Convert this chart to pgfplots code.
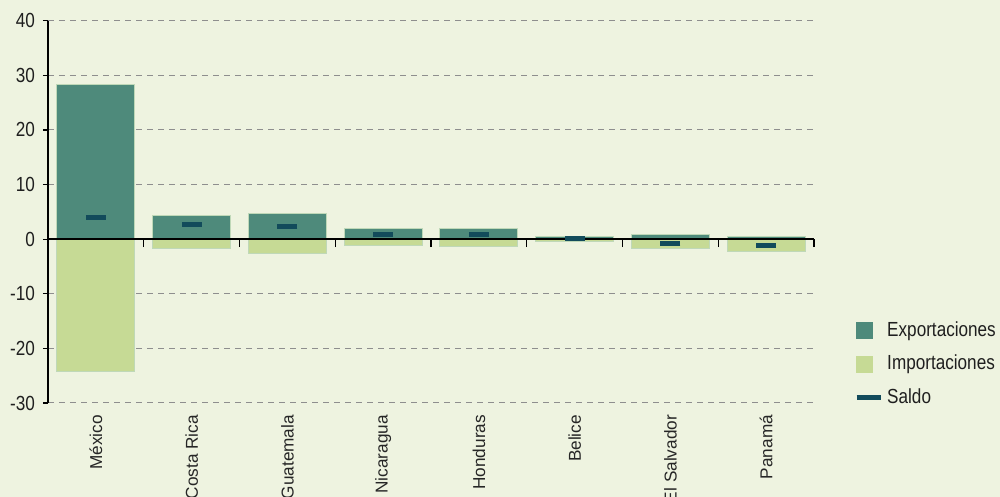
\documentclass[border=0pt]{standalone}
\usepackage{fontspec}
\setmainfont{Liberation Sans}
\newfontfamily\cond[FakeStretch=0.84]{Liberation Sans}
\usepackage{pgfplots}
\pgfplotsset{compat=1.18}
\definecolor{bg}{HTML}{EEF3E0}
\definecolor{expc}{HTML}{4E8A7B}
\definecolor{impc}{HTML}{C6DA95}
\definecolor{saldoc}{HTML}{124B5B}
\definecolor{edgec}{HTML}{BFD8B8}
\definecolor{gridc}{HTML}{8E8E8E}
\begin{document}
\begin{tikzpicture}
\useasboundingbox (0,0) rectangle (500pt,248.5pt);
\clip (0,0) rectangle (500pt,248.5pt);
\fill[bg] (0,0) rectangle (500pt,248.5pt);
\begin{axis}[
  at={(24pt,47pt)}, anchor=south west,
  scale only axis, width=383pt, height=191.15pt,
  xmin=-0.5, xmax=7.5, ymin=-30, ymax=40,
  axis lines*=left,
  x axis line style={draw=none},
  y axis line style={black, line width=0.7pt},
  ytick={-30,-20,...,40},
  ymajorgrids,
  grid style={dashed, gridc, line width=0.5pt, dash pattern=on 3pt off 2.5pt},
  xtick={0,...,7},
  xticklabels={México,Costa Rica,Guatemala,Nicaragua,Honduras,Belice,El Salvador,Panamá},
  xtick style={draw=none},
  ytick style={black, line width=0.6pt},
  tick align=outside, major tick length=2.5pt,
  x tick label style={rotate=90, anchor=east, font=\fontsize{8.6}{10}\selectfont, text=black!85},
  y tick label style={font=\cond\fontsize{10.2}{12}\selectfont, text=black!88, xshift=-0.5pt},
  /pgf/number format/assume math mode=true,
  ybar, bar width=39pt, bar shift=0pt,
  legend style={at={(1.052,0.225)}, anchor=north west, draw=none, fill=none, inner sep=0pt,
    font=\cond\fontsize{10.2}{12}\selectfont, text=black!88, row sep=4pt},
  legend cell align=left,
]
\addplot[fill=expc, draw=edgec, line width=0.5pt,
  legend image code/.code={\fill[expc] (0pt,-4pt) rectangle (8pt,4pt);}]
  coordinates {(0,28.4) (1,4.3) (2,4.75) (3,2.0) (4,2.0) (5,0.55) (6,0.9) (7,0.55)};
\addlegendentry{Exportaciones}
\addplot[fill=impc, draw=edgec, line width=0.5pt,
  legend image code/.code={\fill[impc] (0pt,-4pt) rectangle (8pt,4pt);}]
  coordinates {(0,-24.3) (1,-1.8) (2,-2.6) (3,-1.1) (4,-1.4) (5,-0.35) (6,-1.8) (7,-2.2)};
\addlegendentry{Importaciones}
\addlegendimage{legend image code/.code={\draw[saldoc, line width=2.5pt] (0pt,0pt) -- (12pt,0pt);}}
\addlegendentry{Saldo}
\end{axis}
\begin{axis}[
  at={(24pt,47pt)}, anchor=south west,
  scale only axis, width=383pt, height=191.15pt,
  xmin=-0.5, xmax=7.5, ymin=-30, ymax=40,
  axis x line*=middle, axis y line=none,
  x axis line style={black, line width=0.8pt},
  xtick={0.5,1.5,...,7.5}, xticklabels={}, ytick=\empty,
  xtick style={black, line width=0.6pt},
  xtick align=outside, major tick length=4pt,
]
\addplot[only marks, mark=-, mark size=5pt, mark options={line width=2.5pt, saldoc}]
  coordinates {(0,4.0) (1,2.6) (2,2.3) (3,0.9) (4,0.85) (5,0.1) (6,-0.8) (7,-1.2)};
\end{axis}
\end{tikzpicture}
\end{document}
